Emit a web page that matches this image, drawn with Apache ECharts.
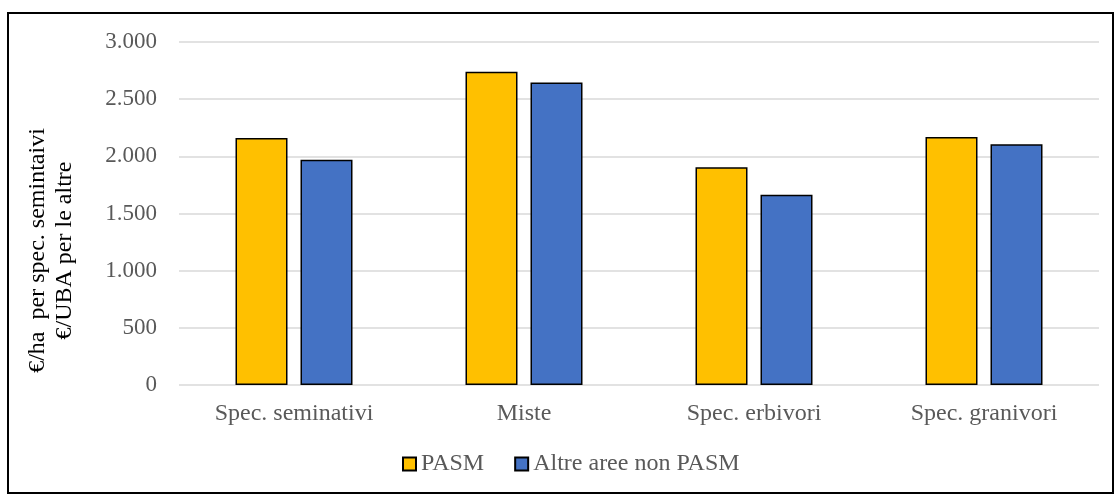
<!DOCTYPE html>
<html>
<head>
<meta charset="utf-8">
<script src="https://cdn.jsdelivr.net/npm/echarts@6/dist/echarts.min.js"></script>
<style>
html,body{margin:0;padding:0;background:#fff;}
#chart{width:1115px;height:495px;}
</style>
</head>
<body>
<div id="chart"></div>
<script>
const categories = ['Spec. seminativi', 'Miste', 'Spec. erbivori', 'Spec. granivori'];
const pasm = [2160, 2740, 1905, 2170];
const altre = [1970, 2645, 1665, 2105];
const seriesNames = ['PASM', 'Altre aree non PASM'];
const yTicks = { min: 0, max: 3000, interval: 500 };

const font = '"Liberation Serif", "Times New Roman", serif';
const chart = echarts.init(document.getElementById('chart'));
function fmt(v) { return String(v).replace(/\B(?=(\d{3})+(?!\d))/g, '.'); }

chart.setOption({
  animation: false,
  backgroundColor: '#fff',
  textStyle: { fontFamily: font },
  graphic: [{
    type: 'rect',
    shape: { x: 8, y: 13, width: 1105, height: 480 },
    style: { fill: 'none', stroke: '#000', lineWidth: 2 },
    z: 100
  }],
  grid: { left: 179, right: 16, top: 42, bottom: 110 },
  legend: {
    top: 447,
    left: 397,
    itemWidth: 13,
    itemHeight: 13,
    itemGap: 30,
    icon: 'rect',
    textStyle: { fontFamily: font, fontSize: 24, color: '#595959' },
    data: seriesNames
  },
  xAxis: {
    type: 'category',
    data: categories,
    axisLine: { show: false },
    axisTick: { show: false },
    axisLabel: { fontFamily: font, fontSize: 24, color: '#595959', margin: 17 }
  },
  yAxis: {
    type: 'value',
    min: yTicks.min, max: yTicks.max, interval: yTicks.interval,
    name: '€/ha  per spec. semintaivi\n€/UBA per le altre',
    nameLocation: 'middle',
    nameRotate: 90,
    nameGap: 101,
    nameTextStyle: { fontFamily: font, fontSize: 24, color: '#000', lineHeight: 27, align: 'center', padding: [0, 74, 0, 0] },
    axisLine: { show: false },
    axisTick: { show: false },
    splitLine: { lineStyle: { color: '#d9d9d9', width: 1.5 } },
    axisLabel: { fontFamily: font, fontSize: 23, color: '#595959', margin: 22, formatter: fmt }
  },
  series: [
    {
      name: seriesNames[0], type: 'bar', data: pasm,
      barWidth: 52, barGap: '25%',
      itemStyle: { color: '#FFC000', borderColor: '#000', borderWidth: 1.5 }
    },
    {
      name: seriesNames[1], type: 'bar', data: altre,
      barWidth: 52, barGap: '25%',
      itemStyle: { color: '#4472C4', borderColor: '#000', borderWidth: 1.5 }
    }
  ]
});
</script>
</body>
</html>
